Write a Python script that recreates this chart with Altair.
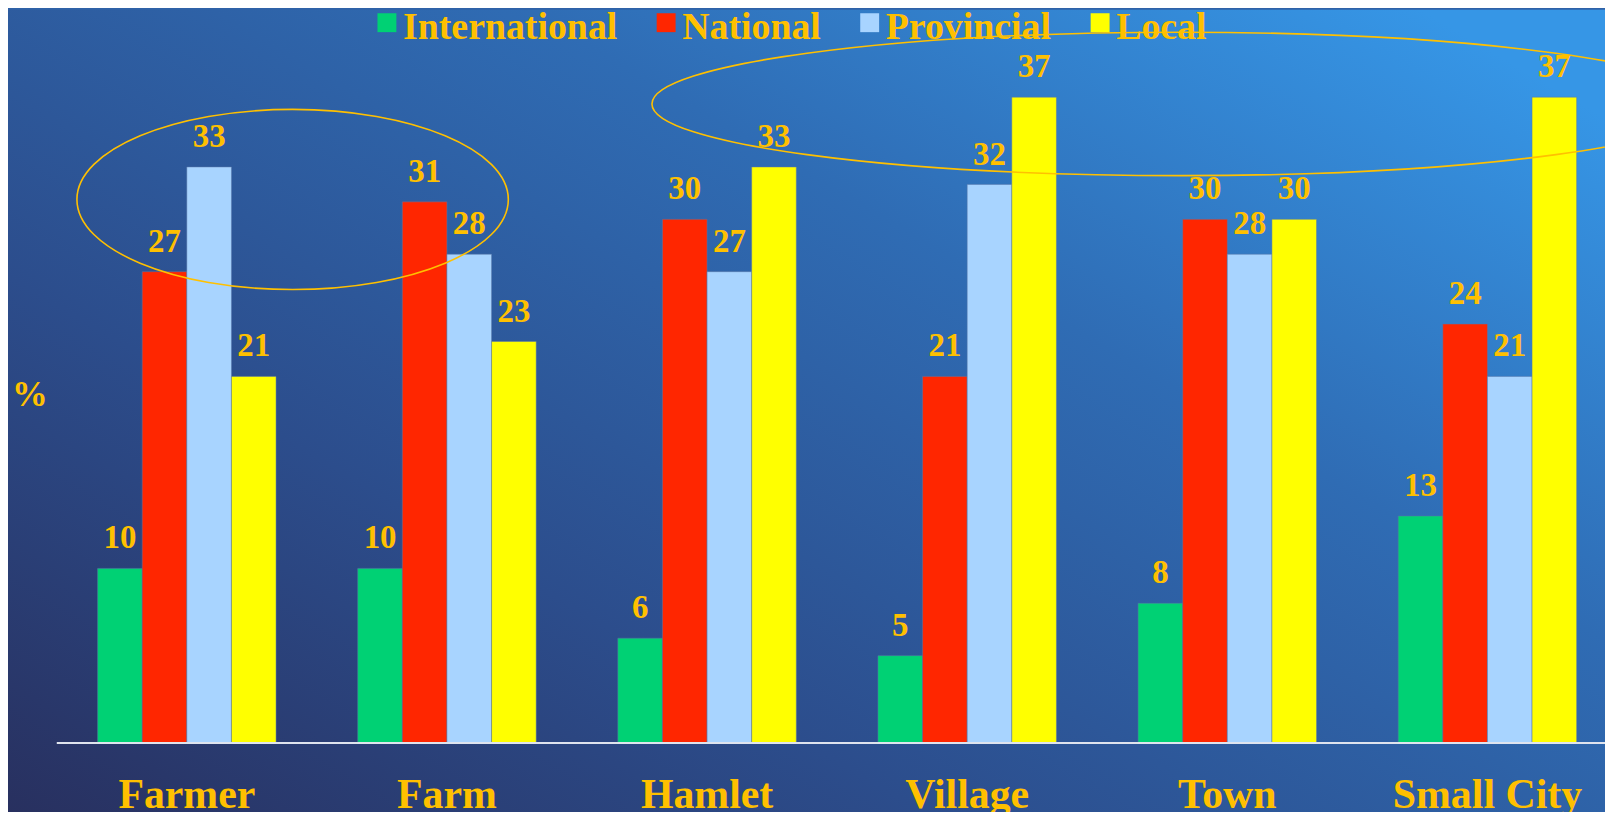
import altair as alt
import pandas as pd

# ---- data ----
categories = ["Farmer", "Farm", "Hamlet", "Village", "Town", "Small City"]
series = ["International", "National", "Provincial", "Local"]
international = [10, 10, 6, 5, 8, 13]
national = [27, 31, 30, 21, 30, 24]
provincial = [33, 28, 27, 32, 28, 21]
local = [21, 23, 33, 37, 30, 37]
series_colors = ["#00D174", "#FF2600", "#A8D4FF", "#FFFF00"]

values = {"International": international, "National": national,
          "Provincial": provincial, "Local": local}
rows = []
for s in series:
    for c, v in zip(categories, values[s]):
        rows.append({"category": c, "series": s, "value": v})
df = pd.DataFrame(rows)

GOLD = "#FFC000"
FONT = "Liberation Serif"
W, H = 1568, 736.5
PAD_L, PAD_B = 49.0, 67
PAD_R = 1604.45 - W - PAD_L

# ---- background gradient ----
bg = alt.Chart(pd.DataFrame({"a": [0]})).mark_rect(
    color=alt.LinearGradient(
        gradient="linear",
        stops=[alt.GradientStop(color="#28305f", offset=0),
               alt.GradientStop(color="#2c4d8c", offset=0.33),
               alt.GradientStop(color="#2f6cb4", offset=0.68),
               alt.GradientStop(color="#3696e6", offset=1)],
        x1=0, y1=1, x2=1, y2=0.15)
).encode(x=alt.value(-PAD_L), x2=alt.value(W + 10),
         y=alt.value(0), y2=alt.value(H + PAD_B + 5))

x_enc = alt.X("category:N", sort=categories,
              scale=alt.Scale(paddingInner=0.314, paddingOuter=0.157),
              axis=alt.Axis(title=None, domain=False, ticks=False, grid=False,
                            labelAngle=0, labelFont=FONT, labelFontSize=42,
                            labelFontWeight="bold", labelColor=GOLD, labelLimit=500,
                            labelPadding=65, labelBaseline="alphabetic", zindex=2))
y_enc = alt.Y("value:Q", scale=alt.Scale(domain=[0, 42.0], nice=False, zero=True),
              axis=alt.Axis(title="%", titleAngle=0, titleX=-27.5, titleY=397.7,
                            titleAlign="center", titleBaseline="alphabetic",
                            titleFont=FONT, titleFontSize=36, titleFontWeight="bold",
                            titleColor=GOLD, domain=False, ticks=False, labels=False,
                            grid=False, zindex=2))
xo_enc = alt.XOffset("series:N", sort=series)

legend_symbol = "M -0.7 -1.59 L 1.3 -1.59 L 1.3 0.41 L -0.7 0.41 Z"

bars = alt.Chart(df).mark_bar(stroke="#5a78a8", strokeWidth=0.5).encode(
    x=x_enc, xOffset=xo_enc, y=y_enc,
    color=alt.Color("series:N", sort=series,
                    scale=alt.Scale(domain=series, range=series_colors),
                    legend=alt.Legend(title=None, orient="none", direction="horizontal",
                                      legendX=309.85, legendY=-0.5, zindex=2,
                                      symbolType=legend_symbol, symbolSize=361,
                                      symbolStrokeWidth=0, symbolOpacity=1,
                                      labelFont=FONT, labelFontSize=38,
                                      labelFontWeight="bold", labelColor=GOLD,
                                      labelOffset=0, columnPadding=26.5,
                                      labelLimit=400)),
)

labels = alt.Chart(df).mark_text(
    dy=-20, baseline="alphabetic", align="center", font=FONT, fontSize=33,
    fontWeight="bold", color=GOLD
).encode(x=alt.X("category:N", sort=categories), xOffset=xo_enc,
         y=alt.Y("value:Q"), text=alt.Text("value:Q"))

baseline = alt.Chart(pd.DataFrame({"a": [0]})).mark_rule(
    color="#dfe4ee", strokeWidth=2
).encode(y=alt.datum(0), x=alt.value(0), x2=alt.value(W + 10))

def ellipse_path(r):
    k = 0.5523
    return (f"M -1 0 C -1 {-k*r} {-k} {-r} 0 {-r} "
            f"C {k} {-r} 1 {-k*r} 1 0 "
            f"C 1 {k*r} {k} {r} 0 {r} "
            f"C {-k} {r} -1 {k*r} -1 0 Z")

# annotation ellipses (center x, center y, semi-axis a, semi-axis b) in plot pixels
ellipse_specs = [(236.95, 190.5, 216.7, 90.5), (1129.95, 94.5, 532.0, 72.0)]
ellipses = []
for cx, cy, a, b in ellipse_specs:
    ellipses.append(
        alt.Chart(pd.DataFrame({"a": [0]})).mark_point(
            shape=ellipse_path(b / a), size=(2 * a) ** 2, filled=False,
            stroke=GOLD, strokeWidth=1.6, opacity=1
        ).encode(x=alt.value(cx), y=alt.value(cy))
    )

chart = alt.layer(bg, bars, baseline, labels, *ellipses).properties(
    width=W, height=H,
    padding={"left": PAD_L, "top": 0, "right": PAD_R, "bottom": PAD_B},
    autosize=alt.AutoSizeParams(type="none"),
    background="#2f62a8",
).configure_view(stroke=None)

chart.save("out.html", embed_options={"renderer": "svg", "actions": False})
